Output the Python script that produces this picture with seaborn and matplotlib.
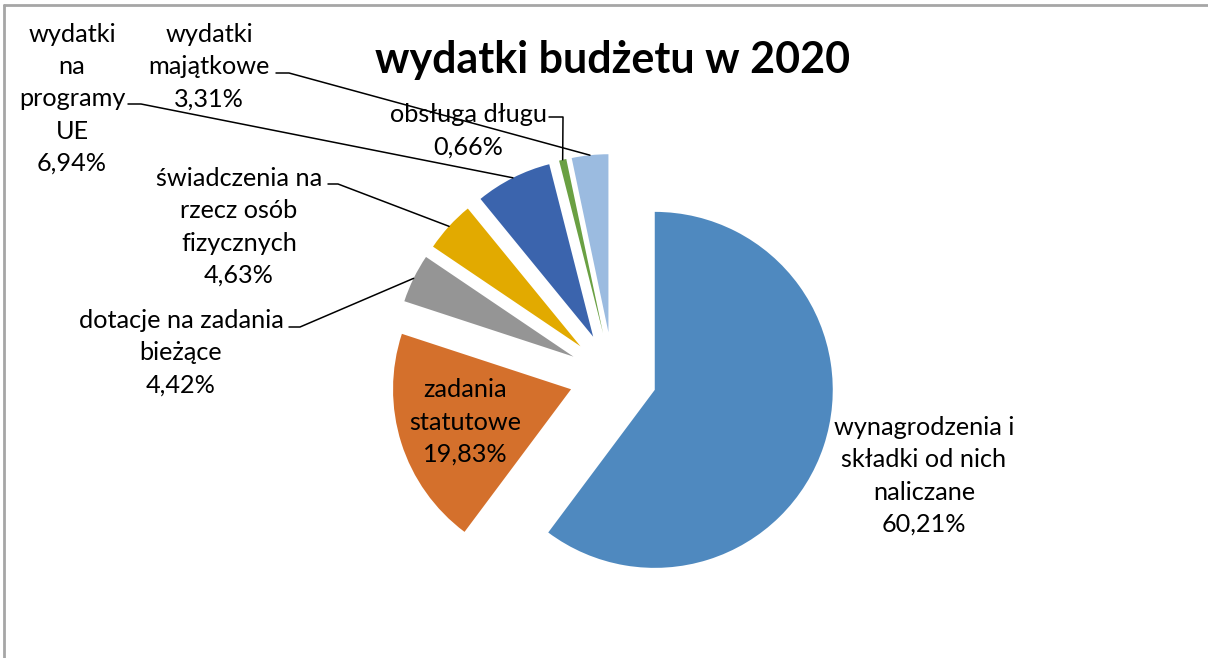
import numpy as np
import matplotlib
matplotlib.use("Agg")
import matplotlib.pyplot as plt
import seaborn as sns

sns.set_theme(style="white")
plt.rcParams["font.family"] = ["Lato", "DejaVu Sans"]

# dane
categories = [
    "wynagrodzenia i\nskładki od nich\nnaliczane",
    "zadania\nstatutowe",
    "dotacje na zadania\nbieżące",
    "świadczenia na\nrzecz osób\nfizycznych",
    "wydatki\nna\nprogramy\nUE",
    "obsługa długu",
    "wydatki\nmajątkowe",
]
shares = [60.21, 19.83, 4.42, 4.63, 6.94, 0.66, 3.31]
colors = ["#4F89BF", "#D4702C", "#959595", "#E2AA00", "#3B64AD", "#6AA043", "#9BBBE0"]
title = "wydatki budżetu w 2020"

W, H = 1208, 658
cx, cy = 613, 376      # srodek kola (pikseli obrazu)
radius = 178
expl = 44

# pozycje etykiet (srodek bloku tekstu) i linie odniesienia
label_pos = [(924, 476), (465, 422), (181, 353), (239, 227), (72, 99), (468, 131), (209, 67)]
leader_start = [None, None, [(289, 327), (300, 327)], [(328, 184), (338, 184)],
                [(128, 104), (141, 104)], [(549, 117), (563, 117)], [(276, 73), (289, 73)]]


def fy(y):
    return H - y


fig = plt.figure(figsize=(W / 100, H / 100), dpi=100)
ax = fig.add_axes([0, 0, 1, 1])

ax.pie(
    shares,
    colors=colors,
    startangle=90,
    counterclock=False,
    radius=radius,
    center=(cx, fy(cy)),
    explode=[expl] * len(shares),
    wedgeprops=dict(linewidth=0),
)
ax.set_xlim(0, W)
ax.set_ylim(0, H)
ax.axis("off")

# katy srodkowe wycinkow (zgodnie z ruchem wskazowek, od gory)
fr = np.array(shares) / np.sum(shares)
mids = (np.cumsum(fr) - fr / 2) * 2 * np.pi

for i, (cat, val) in enumerate(zip(categories, shares)):
    txt = cat + "\n" + f"{val:.2f}".replace(".", ",") + "%"
    x, y = label_pos[i]
    ax.text(x, fy(y), txt, ha="center", va="center", fontsize=18.2,
            linespacing=1.48, color="#000000")
    if leader_start[i] is not None:
        d = expl + radius
        ex = cx + d * np.sin(mids[i])
        ey = cy - d * np.cos(mids[i])
        pts = leader_start[i] + [(ex, ey)]
        ax.plot([p[0] for p in pts], [fy(p[1]) for p in pts], color="black", lw=1.1)

ax.text(613, fy(60), title, ha="center", va="center", fontsize=31,
        fontweight="bold", color="black")

# ramka wykresu
ax.plot([4, W], [fy(5), fy(5)], color="#A6A6A6", lw=2, clip_on=False)
ax.plot([4, 4], [fy(5), 0], color="#A6A6A6", lw=2, clip_on=False)

fig.savefig("out.png", dpi=100)
